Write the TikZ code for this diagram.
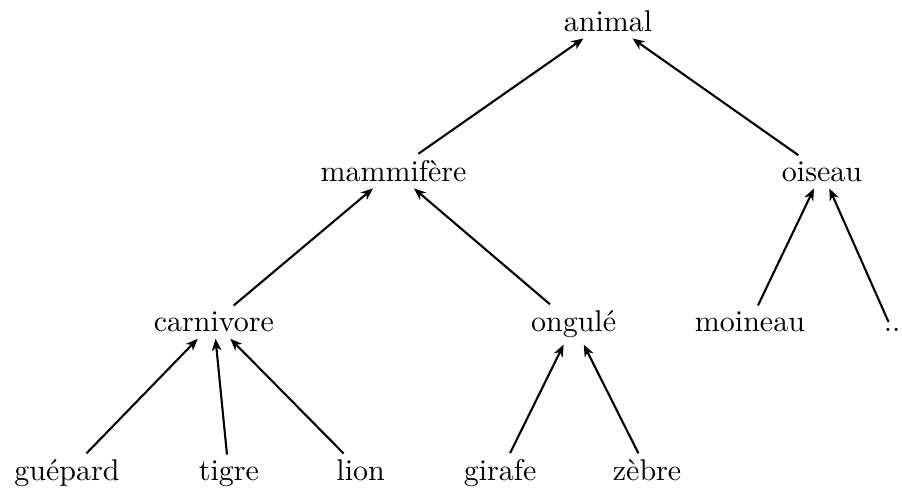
\documentclass[tikz,border=0pt]{standalone}
\usetikzlibrary{arrows.meta}
\begin{document}
\begin{tikzpicture}[x=1pt,y=1pt,
  word/.style={anchor=base,inner sep=2pt,font=\fontsize{10}{12}\selectfont},
  isa/.style={-{Stealth[length=4pt,width=3.2pt,inset=1.2pt]},line width=0.7pt}]
\useasboundingbox (0,0) rectangle (300.67,-163);
% level 0
\node[word] (animal) at (202.67,-10.5) {animal};
% level 1
\node[word] (mammifere) at (131.2,-60.5) {mammifère};
\node[word] (oiseau) at (274.0,-60.5) {oiseau};
% level 2
\node[word] (carnivore) at (71.3,-110.6) {carnivore};
\node[word] (ongule) at (191.2,-110.6) {ongulé};
\node[word] (moineau) at (250.0,-110.6) {moineau};
\node[word] (autres) at (297.4,-110.6) {..};
% level 3
\node[word] (guepard) at (22.3,-160.3) {guépard};
\node[word] (tigre) at (76.3,-160.3) {tigre};
\node[word] (lion) at (120.2,-160.3) {lion};
\node[word] (girafe) at (166.7,-160.3) {girafe};
\node[word] (zebre) at (215.7,-160.3) {zèbre};
% edges point from child to parent
\draw[isa] (mammifere) -- (animal);
\draw[isa] (oiseau) -- (animal);
\draw[isa] (carnivore) -- (mammifere);
\draw[isa] (ongule) -- (mammifere);
\draw[isa] (moineau) -- (oiseau);
\draw[isa] (autres) -- (oiseau);
\draw[isa] (guepard) -- (carnivore);
\draw[isa] (tigre) -- (carnivore);
\draw[isa] (lion) -- (carnivore);
\draw[isa] (girafe) -- (ongule);
\draw[isa] (zebre) -- (ongule);
\end{tikzpicture}
\end{document}
